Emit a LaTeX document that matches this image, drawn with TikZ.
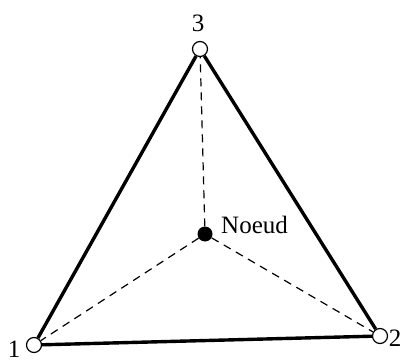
\documentclass[tikz,border=0pt]{standalone}
\usepackage{fontspec}
\setmainfont{Liberation Serif}
\begin{document}
\begin{tikzpicture}[x=1pt,y=-1pt,
  vertex/.style={circle,draw,line width=1.2pt,fill=white,minimum size=15pt,inner sep=0pt},
  center/.style={circle,fill=black,minimum size=15pt,inner sep=0pt},
  side/.style={line width=3.4pt},
  spoke/.style={line width=1.2pt,dash pattern=on 8pt off 6pt},
  lab/.style={font=\fontsize{25}{25}\selectfont,inner sep=0pt}]
\useasboundingbox (0,0) rectangle (403,363);
\node[vertex] (n3) at (200,49) {};
\node[vertex] (n1) at (34,345) {};
\node[vertex] (n2) at (380,336) {};
\node[center] (c) at (205,234) {};
\draw[spoke] (c) -- (n3);
\draw[spoke] (c) -- (n1);
\draw[spoke] (c) -- (n2);
\draw[side] (n1) -- (n3);
\draw[side] (n3) -- (n2);
\draw[side] (n1) -- (n2);
\node[lab] (l3) at (198,23) {3};
\node[lab] (l1) at (14,349) {1};
\node[lab] (l2) at (395,338) {2};
\node[lab,anchor=base west] (lc) at (221,233) {Noeud};
\end{tikzpicture}
\end{document}
